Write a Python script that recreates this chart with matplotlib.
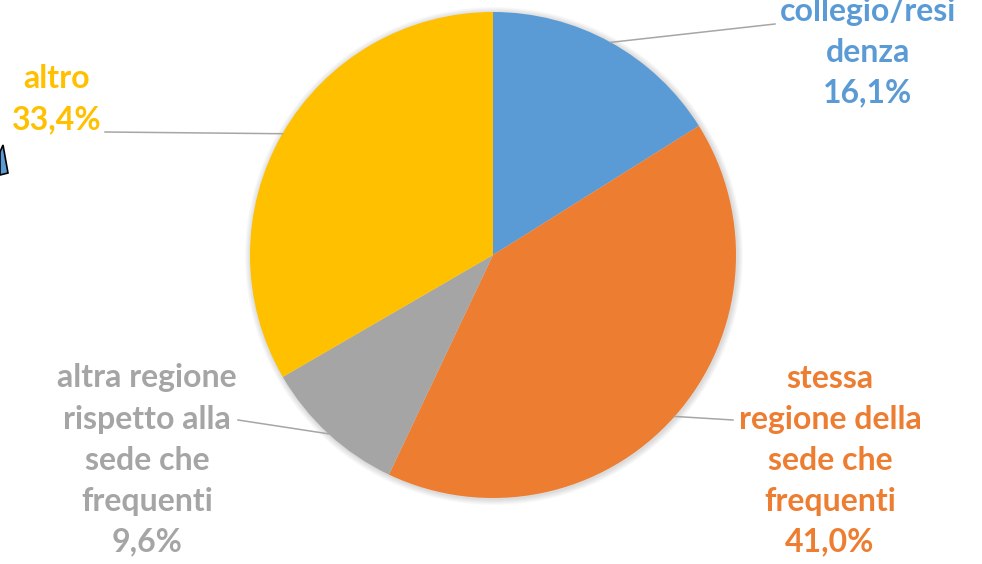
"""Pie chart: sistemazione abitativa degli studenti"""
import numpy as np
import matplotlib
matplotlib.use('Agg')
import matplotlib.pyplot as plt
from matplotlib.patches import Polygon, Circle

# data
labels = ['collegio/resi\ndenza', 'stessa\nregione della\nsede che\nfrequenti',
          'altra regione\nrispetto alla\nsede che\nfrequenti', 'altro']
values = [16.1, 41.0, 9.6, 33.4]
colors = ['#5B9BD5', '#ED7D31', '#A5A5A5', '#FFC000']

W, H = 982, 564
fig = plt.figure(figsize=(W / 100, H / 100), dpi=100)
ax = fig.add_axes([0, 0, 1, 1])

cx, cy, r = 493, H - 255, 243

# soft shadow around the pie
for k in range(6, 0, -1):
    ax.add_patch(Circle((cx + 1, cy - 1), r + k, color='#000000',
                        alpha=0.025, lw=0, zorder=0))

wedges, _ = ax.pie(values, colors=colors, startangle=90, counterclock=False,
                   center=(cx, cy), radius=r,
                   wedgeprops=dict(linewidth=0))

ax.set_xlim(0, W)
ax.set_ylim(0, H)
ax.set_aspect('equal')
ax.axis('off')

# label positions (text centre) and end of leader line, image pixels
label_pos = [(868, 52), (830, 460), (147, 460), (57, 99)]
line_end = [(775, 24), (733, 420), (238, 420), (105, 132)]

font = ['Lato', 'DejaVu Sans']
for w, lab, v, col, (tx, ty), (lx, ly) in zip(wedges, labels, values, colors,
                                              label_pos, line_end):
    mid = np.deg2rad((w.theta1 + w.theta2) / 2)
    px, py = cx + r * np.cos(mid), cy + r * np.sin(mid)
    ax.plot([px, lx], [py, H - ly], color='#A6A6A6', lw=1.1, zorder=3)
    txt = lab + '\n' + f'{v:.1f}'.replace('.', ',') + '%'
    ax.text(tx, H - ty, txt, ha='center', va='center', color=col,
            fontsize=23, fontweight='bold', family=font, linespacing=1.5,
            zorder=4)

# piece of a callout arrow cut by the left border
ax.add_patch(Polygon([(0, H - 152), (3, H - 145), (8, H - 173), (0, H - 175)],
                     closed=True, facecolor='#5B9BD5', edgecolor='black',
                     lw=1.2, zorder=5))

fig.savefig('out.png', dpi=100)
